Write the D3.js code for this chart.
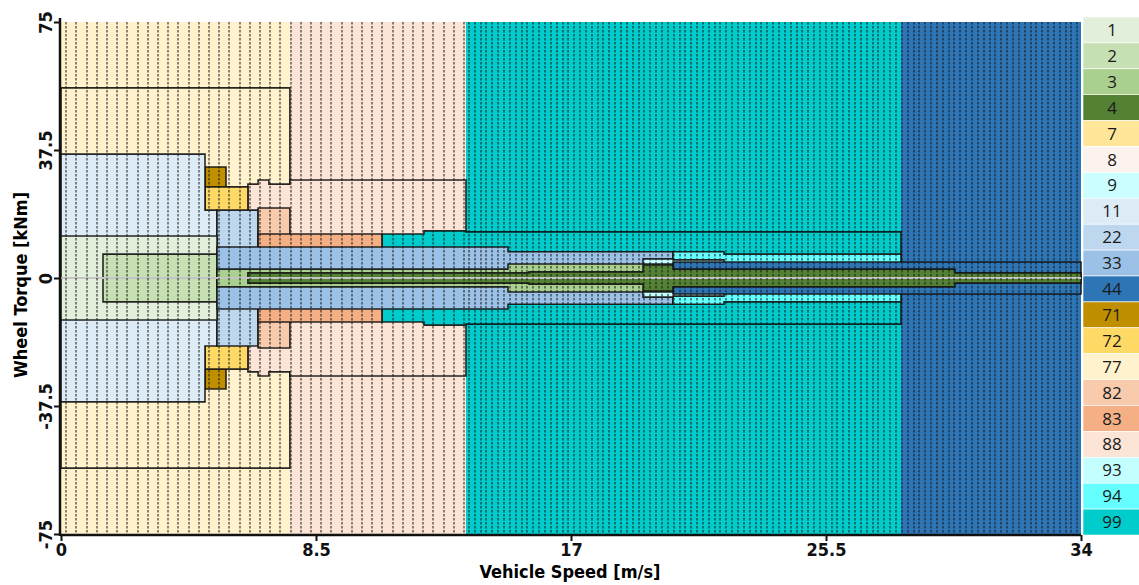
<!DOCTYPE html>
<html>
<head>
<meta charset="utf-8">
<script src="https://cdn.jsdelivr.net/npm/d3@7"></script>
<style>
  body { margin: 0; background: #fff; }
  svg { display: block; }
  .tick text { font-family: "Liberation Sans Narrow", "DejaVu Sans Condensed", sans-serif; font-weight: bold; font-size: 18px; fill: #111; }
</style>
</head>
<body>
<svg id="chart" width="1139" height="585"></svg>
<script>
// legend: operating mode codes and colours
var legendCodes = [1, 2, 3, 4, 7, 8, 9, 11, 22, 33, 44, 71, 72, 77, 82, 83, 88, 93, 94, 99];
var legendColors = ['#E2EFDA', '#C6E0B4', '#A9D08E', '#548235', '#FFE699', '#FDF3EE', '#CCFFFF',
  '#DDEBF7', '#BDD7EE', '#9BC2E6', '#2E75B6', '#BF8F00', '#FFD966', '#FFF2CC', '#F8CBAD',
  '#F4B084', '#FCE4D6', '#C4FFFF', '#66FFFF', '#00CCCC'];

var xTicks = [0, 8.5, 17, 25.5, 34];
var yTicks = [75, 37.5, 0, -37.5, -75];

// full height background zones: [speed from, speed to]
var zoneCodes = [77, 88, 99, 44];
var zoneSpans = [[0, 7.63], [7.63, 13.5], [13.5, 28], [28, 34]];

// regions, symmetric around zero torque, drawn in order
// each step: [speed from, speed to, torque limit]
var regionCodes = [77, 88, 99, 71, 72, 11, 22, 82, 83, 1, 2, 33, 94, 93, 44, 3, 4];
var regionSteps = [
  [[0, 7.63, 55.7]],
  [[6.23, 6.57, 27.5], [6.57, 6.93, 28.7], [6.93, 7.63, 27.5], [7.63, 13.5, 28.7]],
  [[10.7, 12.1, 12.9], [12.1, 13.5, 13.8], [13.5, 28, 13.5]],
  [[4.8, 5.5, 32.5]],
  [[4.8, 6.23, 26.7]],
  [[0, 4.8, 36.3], [4.8, 5.2, 19.9]],
  [[5.2, 6.57, 19.9]],
  [[6.57, 7.63, 20.5]],
  [[6.57, 10.7, 12.9]],
  [[0, 5.2, 12.3]],
  [[1.4, 5.2, 7.0]],
  [[5.2, 14.9, 9.1], [14.9, 20.4, 7.7]],
  [[20.4, 22.1, 7.7], [22.1, 28, 7.0]],
  [[19.4, 20.4, 5.6], [20.4, 22.1, 5.3]],
  [[20.4, 34, 4.7]],
  [[5.2, 14.9, 2.6], [14.9, 20.4, 4.1]],
  [[6.23, 15.6, 1.5], [15.6, 19.4, 1.8], [19.4, 20.4, 3.8], [20.4, 29.8, 2.6], [29.8, 34, 1.5]]
];

// dashed column grid: [speed from, speed to, column width]
var gridZones = [[0, 13.5, 0.34], [13.5, 34, 0.195]];

var svg = d3.select('#chart');

var x = d3.scaleLinear().domain([0, 34]).range([61, 1081]);
var y = d3.scaleLinear().domain([-75, 75]).range([534, 22]);

function colorOf(code) {
  return legendColors[legendCodes.indexOf(code)];
}

function regionPoints(steps) {
  var pts = [];
  steps.forEach(function(s, i) {
    if (i == 0) pts.push([s[0], -s[2]]);
    pts.push([s[0], s[2]]);
    pts.push([s[1], s[2]]);
  });
  var lower = [];
  steps.slice().reverse().forEach(function(s) {
    lower.push([s[1], -s[2]]);
    lower.push([s[0], -s[2]]);
  });
  return pts.concat(lower);
}

var line = d3.line()
  .x(function(d) { return x(d[0]); })
  .y(function(d) { return y(d[1]); });

// background zones
svg.append('g')
  .selectAll('rect')
  .data(zoneSpans)
  .enter()
  .append('rect')
  .attr('x', function(d) { return x(d[0]); })
  .attr('width', function(d) { return x(d[1]) - x(d[0]); })
  .attr('y', y(75))
  .attr('height', y(-75) - y(75))
  .attr('fill', function(d, i) { return colorOf(zoneCodes[i]); });

// regions
svg.append('g')
  .selectAll('path')
  .data(regionSteps)
  .enter()
  .append('path')
  .attr('d', function(d) { return line(regionPoints(d)) + 'Z'; })
  .attr('fill', function(d, i) { return colorOf(regionCodes[i]); })
  .attr('stroke', '#111')
  .attr('stroke-opacity', 0.9)
  .attr('stroke-width', 1.6)
  .attr('stroke-linejoin', 'miter');

// zero torque line
svg.append('line')
  .attr('x1', x(0))
  .attr('x2', x(34))
  .attr('y1', y(0))
  .attr('y2', y(0))
  .attr('stroke', '#C4C4C4')
  .attr('stroke-width', 2);

// dashed column lines
var gridX = [];
gridZones.forEach(function(z) {
  d3.range(z[0] + z[2] * 0.5, z[1], z[2]).forEach(function(v) { gridX.push(v); });
});

svg.append('g')
  .selectAll('line')
  .data(gridX)
  .enter()
  .append('line')
  .attr('x1', function(d) { return Math.round(x(d)); })
  .attr('x2', function(d) { return Math.round(x(d)); })
  .attr('y1', y(75))
  .attr('y2', y(-75))
  .attr('stroke', '#151515')
  .attr('stroke-opacity', 0.5)
  .attr('stroke-width', 2)
  .attr('stroke-dasharray', '2.5,1.5');

// axes
var xAxis = d3.axisBottom(x).tickValues(xTicks).tickSize(6).tickFormat(function(d) { return d; });
var gx = svg.append('g').attr('transform', 'translate(0,' + 535 + ')').call(xAxis);
gx.select('.domain').attr('stroke', '#111').attr('stroke-width', 2.5).attr('d', 'M' + (x(0) - 1) + ',0H' + x(34));
gx.selectAll('.tick line').attr('stroke', '#111').attr('stroke-width', 2);
gx.selectAll('.tick text').attr('dy', '0.72em').attr('y', 8);

var yAxis = d3.axisLeft(y).tickValues(yTicks).tickSize(6).tickFormat(function(d) { return d; });
var gy = svg.append('g').attr('transform', 'translate(60,0)').call(yAxis);
gy.select('.domain').attr('stroke', '#111').attr('stroke-width', 2.5).attr('d', 'M0,18V536');
gy.selectAll('.tick line').attr('stroke', '#111').attr('stroke-width', 2);
gy.selectAll('.tick text')
  .attr('transform', 'rotate(-90)')
  .attr('x', 0)
  .attr('y', -8)
  .attr('dy', 0)
  .attr('text-anchor', 'middle');

svg.append('text')
  .attr('x', 570)
  .attr('y', 578)
  .attr('text-anchor', 'middle')
  .style('font-family', '"Liberation Sans Narrow", "DejaVu Sans Condensed", sans-serif')
  .style('font-weight', 'bold')
  .style('font-size', '18px')
  .text('Vehicle Speed [m/s]');

svg.append('text')
  .attr('transform', 'translate(27,' + 285 + ') rotate(-90)')
  .attr('text-anchor', 'middle')
  .style('font-family', '"Liberation Sans Narrow", "DejaVu Sans Condensed", sans-serif')
  .style('font-weight', 'bold')
  .style('font-size', '18px')
  .text('Wheel Torque [kNm]');

// legend
var cellH = (535 - 17) / legendCodes.length;
var legend = svg.append('g')
  .selectAll('g')
  .data(legendCodes)
  .enter()
  .append('g')
  .attr('transform', function(d, i) { return 'translate(1083,' + (17 + i * cellH) + ')'; });

legend.append('rect')
  .attr('width', 60)
  .attr('height', cellH)
  .attr('fill', function(d, i) { return legendColors[i]; })
  .attr('stroke', '#fff')
  .attr('stroke-width', 0.6);

legend.append('text')
  .attr('x', 29)
  .attr('y', cellH / 2)
  .attr('dy', '0.36em')
  .attr('text-anchor', 'middle')
  .style('font-family', '"Open Sans", "DejaVu Sans", sans-serif')
  .style('font-size', '17px')
  .style('fill', '#1a1a1a')
  .text(function(d) { return d; });
</script>
</body>
</html>
